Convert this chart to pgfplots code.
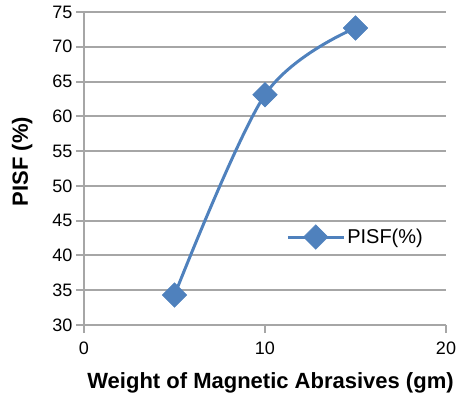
\documentclass[border=0pt]{standalone}
\usepackage{pgfplots}
\pgfplotsset{compat=1.18}
\usetikzlibrary{calc}
\usepackage{fontspec}
\setmainfont{Liberation Sans}
\definecolor{ser}{HTML}{4F81BD}
\definecolor{gr}{HTML}{A6A6A6}
\begin{document}
\begin{tikzpicture}
\begin{axis}[
  scale only axis, width=362bp, height=313bp,
  xmin=0, xmax=20, ymin=30, ymax=75,
  xtick={0,10,20}, ytick={30,35,...,75},
  axis lines*=left,
  axis line style={gr, line width=2bp},
  tick style={gr, line width=2bp},
  tick align=outside, major tick length=8bp,
  ymajorgrids, grid style={gr, line width=2bp},
  tick label style={font=\fontsize{18bp}{21bp}\selectfont},
  xticklabel style={yshift=-5bp},
  /pgf/number format/assume math mode=true,
  xlabel={Weight of Magnetic Abrasives (gm)},
  ylabel={PISF (\%)},
  label style={font=\bfseries\fontsize{22bp}{26bp}\selectfont},
  xlabel style={at={($(axis description cs:0.5,0)+(5.5bp,-63bp)$)}, anchor=base},
  ylabel style={at={($(axis description cs:0,0.5)+(-56bp,7bp)$)}, anchor=base},
  legend style={draw=none, fill=none, at={(0.55,0.281)}, anchor=west,
    font=\fontsize{20bp}{23bp}\selectfont},
  legend image code/.code={\draw[mark repeat=2, mark phase=2, #1] plot coordinates {(0bp,0bp) (28bp,0bp) (56bp,0bp)};},
]
\addplot[ser, line width=3bp, smooth, tension=0.55, mark=square*, mark size=8.7bp,
  mark options={rotate=45, fill=ser, draw=ser, line width=0.5bp}]
  coordinates {(5,34.3) (10,63.1) (15,72.7)};
\addlegendentry{PISF(\%)}
\coordinate (bl) at (rel axis cs:0,0);
\end{axis}
\path (bl) ++(-84bp,-72bp) rectangle ++(462bp,397bp);
\end{tikzpicture}
\end{document}
